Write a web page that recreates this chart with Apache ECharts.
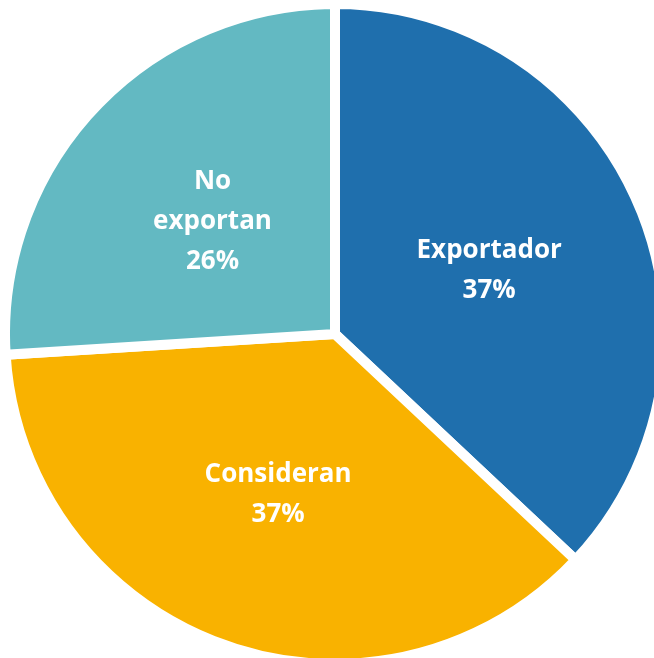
<!DOCTYPE html>
<html>
<head>
<meta charset="utf-8">
<script src="https://cdn.jsdelivr.net/npm/echarts@6/dist/echarts.min.js"></script>
<style>
  html, body { margin: 0; padding: 0; background: #ffffff; }
  #chart { width: 654px; height: 658px; }
</style>
</head>
<body>
<div id="chart"></div>
<script>
// Share of companies by export status
const categories = ['Exportador', 'Consideran', 'No\nexportan'];
const shares = [37, 37, 26];
const colors = ['#1F6FAD', '#F9B200', '#63B9C2'];

const chart = echarts.init(document.getElementById('chart'), null, { renderer: 'canvas' });

const data = categories.map((name, i) => ({
  name: name,
  value: shares[i],
  itemStyle: { color: colors[i] }
}));

chart.setOption({
  animation: false,
  backgroundColor: '#ffffff',
  series: [{
    type: 'pie',
    center: [335, 334],
    radius: [0, 330],
    startAngle: 90,
    clockwise: true,
    data: data,
    itemStyle: { borderColor: '#ffffff', borderWidth: 10 },
    label: {
      show: true,
      position: 'inside',
      formatter: '{b}\n{c}%',
      color: '#ffffff',
      fontFamily: 'Open Sans',
      fontWeight: 'bold',
      fontSize: 26,
      lineHeight: 40,
      offset: [0, 3]
    },
    labelLine: { show: false },
    emphasis: { disabled: true }
  }]
});
</script>
</body>
</html>
